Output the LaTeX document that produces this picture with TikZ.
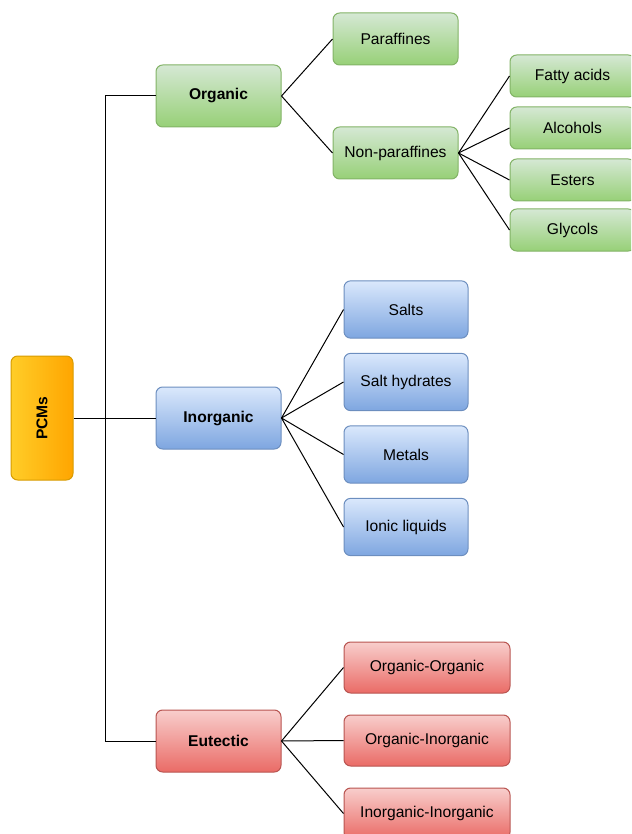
\documentclass[tikz,border=0pt]{standalone}
\usepackage{fontspec}
\setmainfont{Liberation Sans}
\usetikzlibrary{shadings}

\definecolor{greenline}{HTML}{82B366}
\definecolor{greentop}{HTML}{D5E8D4}
\definecolor{greenbot}{HTML}{97D077}
\definecolor{blueline}{HTML}{6C8EBF}
\definecolor{bluetop}{HTML}{DAE8FC}
\definecolor{bluebot}{HTML}{7EA6E0}
\definecolor{redline}{HTML}{B85450}
\definecolor{redtop}{HTML}{F8CECC}
\definecolor{redbot}{HTML}{EA6B66}
\definecolor{goldline}{HTML}{D79B00}
\definecolor{goldleft}{HTML}{FFCD28}
\definecolor{goldright}{HTML}{FFA500}

\tikzset{
  box/.style={rectangle, rounded corners=5pt, draw, line width=0.75pt, inner sep=0pt,
    font=\fontsize{11.7}{13}\selectfont},
  greenbox/.style={box, draw=greenline, top color=greentop, bottom color=greenbot},
  bluebox/.style={box, draw=blueline, top color=bluetop, bottom color=bluebot},
  redbox/.style={box, draw=redline, top color=redtop, bottom color=redbot},
  mainbox/.style={minimum width=93.75pt, minimum height=46.5pt, font=\fontsize{11.7}{13}\selectfont\bfseries},
  link/.style={line width=0.75pt}
}

\begin{document}
\begin{tikzpicture}[x=0.75pt, y=-0.75pt]

        \useasboundingbox (0,0) rectangle (631,834);
        \clip (0,0) rectangle (631,834);

        % Root
        \node (pcms) [box, draw=goldline, left color=goldleft, right color=goldright,
          minimum width=46.5pt, minimum height=93pt] at (42,418) {\rotatebox{90}{\textbf{PCMs}}};

        % Main classes
        \node (organic) [greenbox, mainbox] at (218.5,96) {Organic};
        \node (inorganic) [bluebox, mainbox] at (218.5,418) {Inorganic};
        \node (eutectic) [redbox, mainbox] at (218.5,741) {Eutectic};

        % Organic branch
        \node (paraffines) [greenbox, minimum width=93.75pt, minimum height=39pt] at (395.5,39) {Paraffines};
        \node (nonparaffines) [greenbox, minimum width=93.75pt, minimum height=39pt] at (395.5,153) {Non-paraffines};
        \node (fatty) [greenbox, minimum width=93.75pt, minimum height=31.5pt] at (572.5,76) {Fatty acids};
        \node (alcohols) [greenbox, minimum width=93.75pt, minimum height=31.5pt] at (572.5,128) {Alcohols};
        \node (esters) [greenbox, minimum width=93.75pt, minimum height=31.5pt] at (572.5,180) {Esters};
        \node (glycols) [greenbox, minimum width=93.75pt, minimum height=31.5pt] at (572.5,230) {Glycols};

        % Inorganic branch
        \node (salts) [bluebox, minimum width=93pt, minimum height=43pt] at (406,309.5) {Salts};
        \node (hydrates) [bluebox, minimum width=93pt, minimum height=43pt] at (406,382) {Salt hydrates};
        \node (metals) [bluebox, minimum width=93pt, minimum height=43pt] at (406,454.5) {Metals};
        \node (ionic) [bluebox, minimum width=93pt, minimum height=43pt] at (406,527) {Ionic liquids};

        % Eutectic branch
        \node (orgorg) [redbox, minimum width=124.5pt, minimum height=38.25pt] at (427,667.5) {Organic-Organic};
        \node (orginorg) [redbox, minimum width=124.5pt, minimum height=38.25pt] at (427,740.5) {Organic-Inorganic};
        \node (inorginorg) [redbox, minimum width=124.5pt, minimum height=38.25pt] at (427,813.5) {Inorganic-Inorganic};

        % Edges
        \coordinate (trunk) at (105,418);
        \draw[link] (pcms.east) -- (trunk);
        \draw[link] (trunk) |- (organic.west);
        \draw[link] (trunk) -- (inorganic.west);
        \draw[link] (trunk) |- (eutectic.west);

        \draw[link] (organic.east) -- (paraffines.west);
        \draw[link] (organic.east) -- (nonparaffines.west);
        \draw[link] (nonparaffines.east) -- (fatty.west);
        \draw[link] (nonparaffines.east) -- (alcohols.west);
        \draw[link] (nonparaffines.east) -- (esters.west);
        \draw[link] (nonparaffines.east) -- (glycols.west);

        \draw[link] (inorganic.east) -- (salts.west);
        \draw[link] (inorganic.east) -- (hydrates.west);
        \draw[link] (inorganic.east) -- (metals.west);
        \draw[link] (inorganic.east) -- (ionic.west);

        \draw[link] (eutectic.east) -- (orgorg.west);
        \draw[link] (eutectic.east) -- (orginorg.west);
        \draw[link] (eutectic.east) -- (inorginorg.west);

    \end{tikzpicture}
\end{document}
